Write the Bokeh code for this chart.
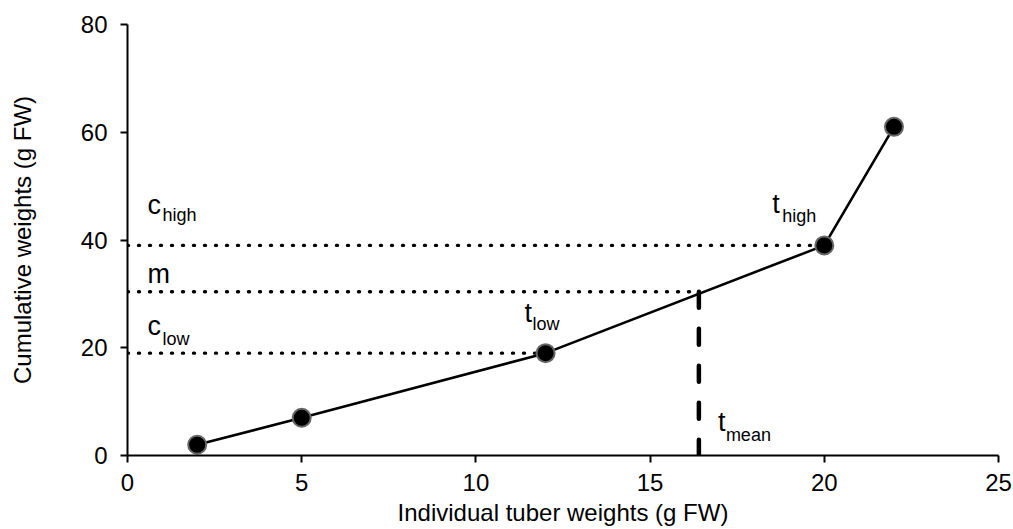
from bokeh.plotting import figure
from bokeh.models import Range1d, ColumnDataSource, FixedTicker
from bokeh.core.properties import value
from bokeh.embed import file_html
from bokeh.resources import INLINE

# ---- data ----
tuber_weight = [2, 5, 12, 20, 22]
cumulative_weight = [2, 7, 19, 39, 61]
c_low = 19
c_high = 39
m_value = 30.4
t_low = 12
t_high = 20
t_mean = 16.4
x_ticks = [0, 5, 10, 15, 20, 25]
y_ticks = [0, 20, 40, 60, 80]
label_main = ["c", "m", "c", "t", "t", "t"]
label_sub = ["high", "", "low", "low", "high", "mean"]
x_title = "Individual tuber weights (g FW)"
y_title = "Cumulative weights (g FW)"

FONT = "Liberation Sans"

p = figure(width=1013, height=529, output_backend="svg", toolbar_location=None,
           x_range=Range1d(0, 25), y_range=Range1d(0, 80),
           min_border_left=127, min_border_right=15, min_border_top=24, min_border_bottom=74)
p.outline_line_color = None
p.xgrid.visible = False
p.ygrid.visible = False

for ax, ticks in ((p.xaxis[0], x_ticks), (p.yaxis[0], y_ticks)):
    ax.ticker = FixedTicker(ticks=ticks)
    ax.minor_tick_line_color = None
    ax.major_tick_in = 0
    ax.major_tick_out = 7
    ax.axis_line_width = 2
    ax.major_tick_line_width = 2
    ax.axis_line_color = "black"
    ax.major_tick_line_color = "black"
    ax.major_label_text_font = FONT
    ax.major_label_text_font_size = "24px"
    ax.major_label_text_color = "black"
    ax.axis_label_text_font = FONT
    ax.axis_label_text_font_size = "24px"
    ax.axis_label_text_font_style = "normal"
    ax.axis_label_text_color = "black"
p.xaxis.major_label_standoff = 11
p.yaxis.major_label_standoff = 13
p.xaxis.axis_label = x_title
p.yaxis.axis_label = y_title
p.xaxis.axis_label_standoff = 5
p.yaxis.axis_label_standoff = 42

# dotted reference lines
p.segment(x0=[0, 0, 0], y0=[c_high, m_value, c_low],
          x1=[t_high, t_mean, t_low], y1=[c_high, m_value, c_low],
          line_color="black", line_width=3.4, line_dash="1 10", line_cap="round")
# dashed vertical at t_mean
p.segment(x0=[t_mean], y0=[m_value], x1=[t_mean], y1=[0],
          line_color="black", line_width=4.5, line_dash="16 21", line_cap="round")

# main curve
p.line(tuber_weight, cumulative_weight, line_color="black", line_width=2.6)
p.scatter(tuber_weight, cumulative_weight, size=18, fill_color="black",
          line_color="#666666", line_width=2)

# labels anchored at the reference points
anchor_x = [0, 0, 0, t_low, t_high, t_mean]
anchor_y = [c_high, m_value, c_low, c_low, c_high, 0]
src = ColumnDataSource(dict(
    x=anchor_x, y=anchor_y, main=label_main, sub=label_sub,
    mx=[20, 20, 20, -21, -52, 19], my=[-40, -18, -27, -40, -41, -34],
    sx=[35, 0, 35, -13, -42, 27], sy=[-30, 0, -14, -29, -29, -21],
))
p.text(x="x", y="y", text="main", source=src, x_offset="mx", y_offset="my",
       text_font=value(FONT), text_font_size=value("27px"), text_color="black",
       text_baseline="alphabetic", text_align="left")
p.text(x="x", y="y", text="sub", source=src, x_offset="sx", y_offset="sy",
       text_font=value(FONT), text_font_size=value("18px"), text_color="black",
       text_baseline="alphabetic", text_align="left")

open("out.html", "w").write(file_html(p, INLINE))
